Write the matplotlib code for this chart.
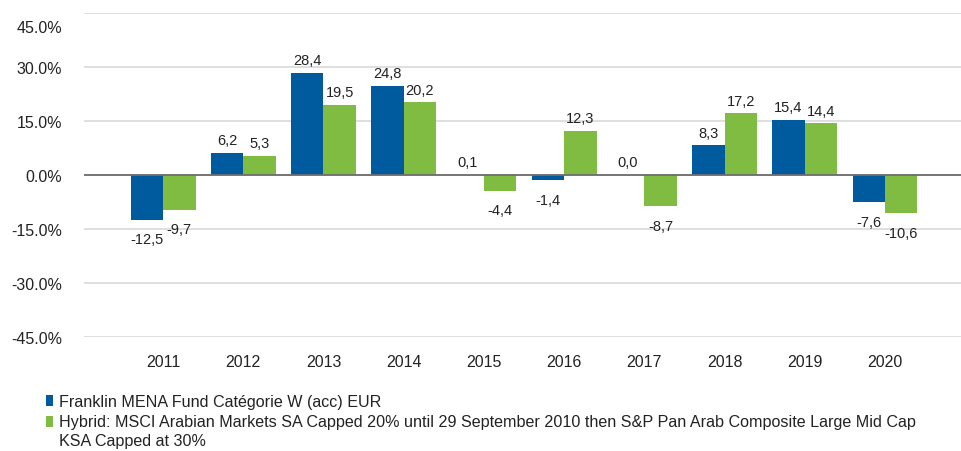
import matplotlib.pyplot as plt
import matplotlib.transforms as mtransforms
from matplotlib.patches import Rectangle
import numpy as np

plt.rcParams['font.family'] = ['Liberation Sans Narrow', 'Liberation Sans', 'DejaVu Sans']

# データ
years = ['2011', '2012', '2013', '2014', '2015', '2016', '2017', '2018', '2019', '2020']
fund = [-12.5, 6.2, 28.4, 24.8, 0.1, -1.4, 0.0, 8.3, 15.4, -7.6]
bench = [-9.7, 5.3, 19.5, 20.2, -4.4, 12.3, -8.7, 17.2, 14.4, -10.6]
series_names = [
    'Franklin MENA Fund Catégorie W (acc) EUR',
    'Hybrid: MSCI Arabian Markets SA Capped 20% until 29 September 2010 then S&P Pan Arab Composite Large Mid Cap\nKSA Capped at 30%',
]
yticks = [45, 30, 15, 0, -15, -30, -45]

colors = ['#005a9e', '#80bc41']

fig = plt.figure(figsize=(9.62, 4.52), dpi=100)
ax = fig.add_axes([84 / 962, 1 - 338 / 452, 1 - 84 / 962, 324 / 452])

x = np.arange(len(years))
w = 0.405
b1 = ax.bar(x - w / 2, fund, w, color=colors[0], zorder=3)
b2 = ax.bar(x + w / 2, bench, w, color=colors[1], zorder=3)

def add_labels(bars, vals):
    for rect, v in zip(bars, vals):
        cx = rect.get_x() + rect.get_width() / 2
        txt = f"{v:.1f}".replace('.', ',')
        if v >= 0:
            ax.annotate(txt, (cx, v), xytext=(0, 4), textcoords='offset points',
                        ha='center', va='bottom', fontsize=10.5, color='#222222')
        else:
            ax.annotate(txt, (cx, v), xytext=(0, -9), textcoords='offset points',
                        ha='center', va='top', fontsize=10.5, color='#222222')

add_labels(b1, fund)
add_labels(b2, bench)

ax.set_xlim(-0.985, 9.96)
ax.set_ylim(-45, 45)
ax.set_yticks(yticks)
ax.set_yticklabels([f"{t:.1f}%" for t in yticks])
ax.set_xticks(x)
ax.set_xticklabels(years)
ax.tick_params(axis='both', length=0, labelsize=11.5, colors='#222222')
ax.tick_params(axis='y', pad=16)
ax.tick_params(axis='x', pad=12)

# 45%ラベルだけ少し下にずらす
lab45 = ax.get_yticklabels()[0]
lab45.set_transform(lab45.get_transform() + mtransforms.ScaledTranslation(0, -13 / 100, fig.dpi_scale_trans))

ax.yaxis.grid(True, color='#d9d9d9', linewidth=1.2, zorder=0)
ax.axhline(0, color='#6e6e6e', linewidth=1.3, zorder=4)
for s in ax.spines.values():
    s.set_visible(False)

# 凡例（手書き）
legend_y = [402 / 452, 423 / 452]
for col, name, ly in zip(colors, series_names, legend_y):
    fig.patches.append(Rectangle((46 / 962, 1 - ly - 5 / 452), 7 / 962, 11 / 452,
                                 transform=fig.transFigure, facecolor=col, edgecolor='none'))
    fig.text(59 / 962, 1 - ly + 7.5 / 452, name, ha='left', va='top', fontsize=11.6,
             color='#222222', linespacing=1.3)

fig.savefig('out.png', dpi=100)
